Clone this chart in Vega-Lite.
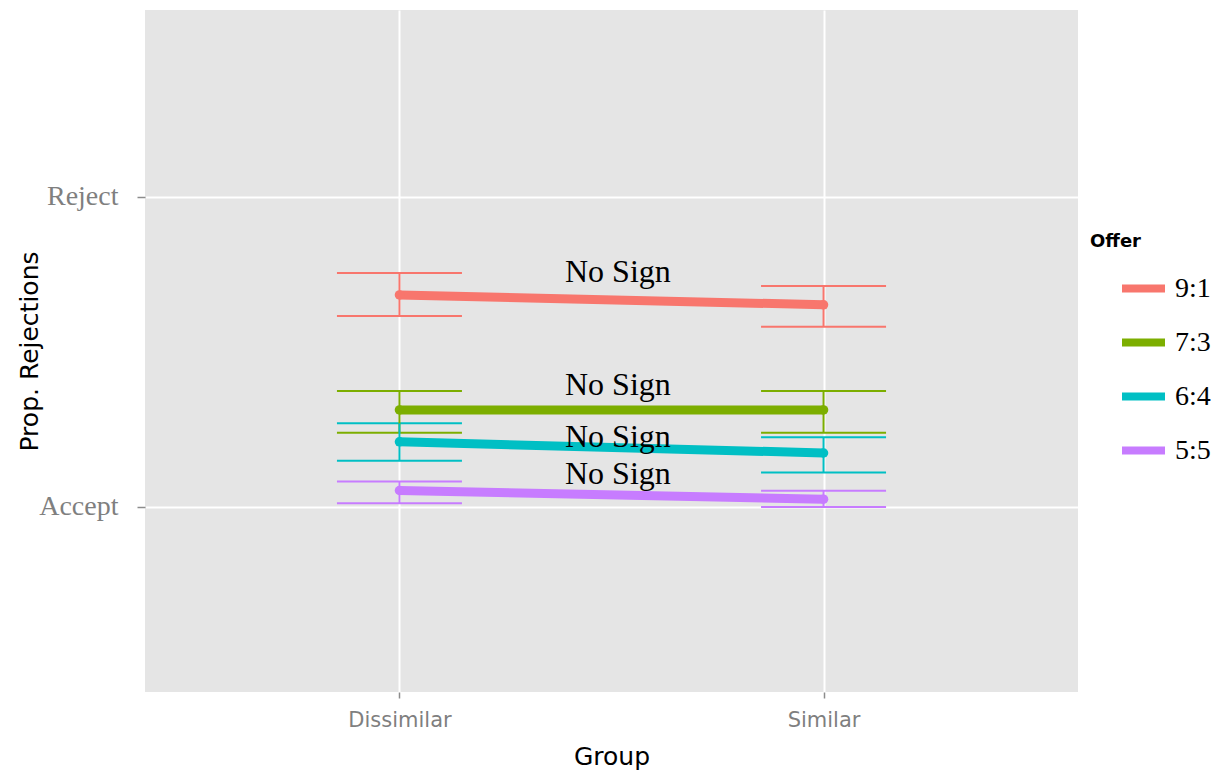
{
  "$schema": "https://vega.github.io/schema/vega-lite/v6.json",
  "width": 933,
  "height": 682,
  "autosize": {"type": "none"},
  "padding": {"left": 145, "top": 10, "right": 154, "bottom": 80},
  "background": "white",
  "config": {
    "view": {"fill": "#E5E5E5", "stroke": null},
    "axis": {
      "domain": false,
      "grid": true,
      "gridColor": "white",
      "gridWidth": 2,
      "tickColor": "#8C8C8C",
      "tickWidth": 1.5,
      "labelColor": "#7F7F7F",
      "titleColor": "#000000",
      "titleFont": "DejaVu Sans",
      "titleFontWeight": "normal",
      "titleFontSize": 25
    }
  },
  "datasets": {
    "means": [
      {"offer": "9:1", "group": "Dissimilar", "pos": 1, "mean": 0.684, "lo": 0.616, "hi": 0.755},
      {"offer": "9:1", "group": "Similar", "pos": 2, "mean": 0.652, "lo": 0.581, "hi": 0.713},
      {"offer": "7:3", "group": "Dissimilar", "pos": 1, "mean": 0.313, "lo": 0.239, "hi": 0.374},
      {"offer": "7:3", "group": "Similar", "pos": 2, "mean": 0.313, "lo": 0.239, "hi": 0.374},
      {"offer": "6:4", "group": "Dissimilar", "pos": 1, "mean": 0.210, "lo": 0.149, "hi": 0.270},
      {"offer": "6:4", "group": "Similar", "pos": 2, "mean": 0.174, "lo": 0.111, "hi": 0.225},
      {"offer": "5:5", "group": "Dissimilar", "pos": 1, "mean": 0.053, "lo": 0.012, "hi": 0.082},
      {"offer": "5:5", "group": "Similar", "pos": 2, "mean": 0.025, "lo": 0.000, "hi": 0.052}
    ],
    "notes": [
      {"label": "No Sign", "pos": 1.515, "y": 0.726},
      {"label": "No Sign", "pos": 1.515, "y": 0.361},
      {"label": "No Sign", "pos": 1.515, "y": 0.194},
      {"label": "No Sign", "pos": 1.515, "y": 0.074}
    ]
  },
  "layer": [
    {
      "data": {"name": "means"},
      "mark": {"type": "errorbar", "thickness": 2, "ticks": {"size": 125, "thickness": 2, "opacity": 1}},
      "encoding": {
        "x": {"field": "pos", "type": "quantitative", "title": "Group"},
        "y": {"field": "lo", "type": "quantitative", "title": "Prop. Rejections"},
        "y2": {"field": "hi"},
        "color": {"field": "offer", "type": "nominal"}
      }
    },
    {
      "data": {"name": "means"},
      "mark": {"type": "line", "strokeWidth": 9, "strokeCap": "butt"},
      "encoding": {
        "x": {
          "field": "pos",
          "type": "quantitative",
          "title": "Group",
          "scale": {"domain": [0.4, 2.6], "nice": false, "zero": false},
          "axis": {
            "title": "Group",
            "values": [1, 2],
            "labelExpr": "datum.value == 1 ? 'Dissimilar' : 'Similar'",
            "labelFont": "DejaVu Sans",
            "labelFontSize": 21,
            "tickSize": 6,
            "labelPadding": 11,
            "titlePadding": 14
          }
        },
        "y": {
          "field": "mean",
          "type": "quantitative",
          "title": "Prop. Rejections",
          "scale": {"domain": [-0.597, 1.603], "nice": false, "zero": false},
          "axis": {
            "title": "Prop. Rejections",
            "values": [0, 1],
            "labelExpr": "datum.value == 1 ? 'Reject' : 'Accept'",
            "labelFont": "Liberation Serif",
            "labelFontSize": 28,
            "tickSize": 8,
            "labelPadding": 19,
            "titlePadding": -4
          }
        },
        "color": {
          "field": "offer",
          "type": "nominal",
          "scale": {
            "domain": ["9:1", "7:3", "6:4", "5:5"],
            "range": ["#F8766D", "#7CAE00", "#00BFC4", "#C77CFF"]
          },
          "legend": {
            "title": "Offer",
            "orient": "none",
            "legendX": 945,
            "legendY": 223,
            "padding": 0,
            "titleFont": "DejaVu Sans",
            "titleFontWeight": "bold",
            "titleFontSize": 18,
            "titleColor": "#000000",
            "titlePadding": 12,
            "labelFont": "Liberation Serif",
            "labelFontSize": 28,
            "labelColor": "#000000",
            "labelOffset": 6,
            "symbolType": "stroke",
            "symbolStrokeWidth": 8,
            "symbolSize": 1849,
            "symbolOffset": 28,
            "symbolOpacity": 1,
            "rowPadding": 12,
            "encode": {"symbols": {"update": {"opacity": {"value": 1}}}}
          }
        }
      }
    },
    {
      "data": {"name": "means"},
      "mark": {"type": "point", "filled": true, "opacity": 1, "size": 90},
      "encoding": {
        "x": {"field": "pos", "type": "quantitative", "title": "Group"},
        "y": {"field": "mean", "type": "quantitative", "title": "Prop. Rejections"},
        "color": {"field": "offer", "type": "nominal"}
      }
    },
    {
      "data": {"name": "notes"},
      "mark": {"type": "text", "font": "Liberation Serif", "fontSize": 32, "align": "center", "baseline": "alphabetic", "color": "#000000"},
      "encoding": {
        "x": {"field": "pos", "type": "quantitative", "title": "Group"},
        "y": {"field": "y", "type": "quantitative", "title": "Prop. Rejections"},
        "text": {"field": "label"}
      }
    }
  ]
}
